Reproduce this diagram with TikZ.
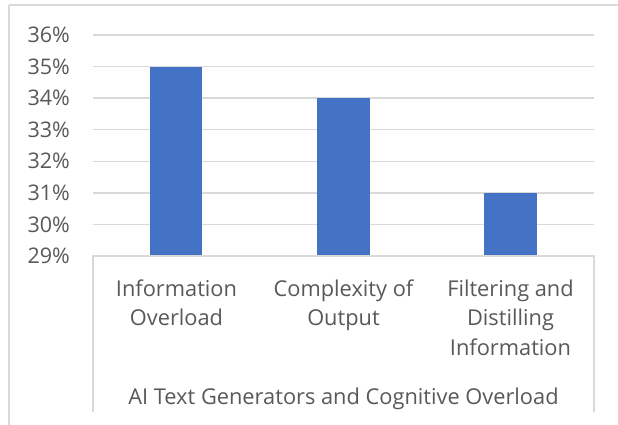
\documentclass[tikz,border=0pt]{standalone}
\usepackage{fontspec}
\setmainfont{Open Sans}
\definecolor{barblue}{HTML}{4472C4}
\definecolor{gridgray}{HTML}{D9D9D9}
\definecolor{txtgray}{HTML}{595959}
\begin{document}
\begin{tikzpicture}[x=1pt,y=-1pt,
  gridline/.style={draw=gridgray,line width=1.6pt},
  framel/.style={draw=gridgray,line width=1.2pt},
  bar/.style={fill=barblue,draw=none},
  ylab/.style={anchor=east,text=txtgray,font=\fontsize{21.5}{28}\selectfont,inner sep=0pt},
  catlab/.style={text=txtgray,font=\fontsize{21.8}{29.5}\selectfont,align=center,inner sep=0pt,anchor=base},
  ]
\useasboundingbox (0,0) rectangle (618,425);
\fill[white] (0,0) rectangle (618,425);
% outer chart frame
\draw[framel] (9,5) -- (618,5);
\draw[framel] (9,5) -- (9,425);
% gridlines
\foreach \v/\y in {36/35,35/66.6,34/98.1,33/129.7,32/161.3,31/192.9,30/224.4}{
  \draw[gridline] (93,\y) -- (594,\y);
  \node[ylab] (y\v) at (70,\y) {\v\%};
}
\node[ylab] (y29) at (70,256) {29\%};
% bars
\fill[bar] (150,66.6) rectangle (202,256);
\fill[bar] (317,98.1) rectangle (370,256);
\fill[bar] (484,192.9) rectangle (537,256);
% category axis box
\draw[gridline] (93,412) -- (93,256) -- (594,256) -- (594,412);
% category labels (base anchor = last line's baseline)
\node[catlab] (c1) at (176.5,325.5) {Information\\Overload};
\node[catlab] (c2) at (343.5,325.5) {Complexity of\\Output};
\node[catlab] (c3) at (510.5,355) {Filtering and\\Distilling\\Information};
\node[catlab] (ctitle) at (343.5,404) {AI Text Generators and Cognitive Overload};
\end{tikzpicture}
\end{document}
